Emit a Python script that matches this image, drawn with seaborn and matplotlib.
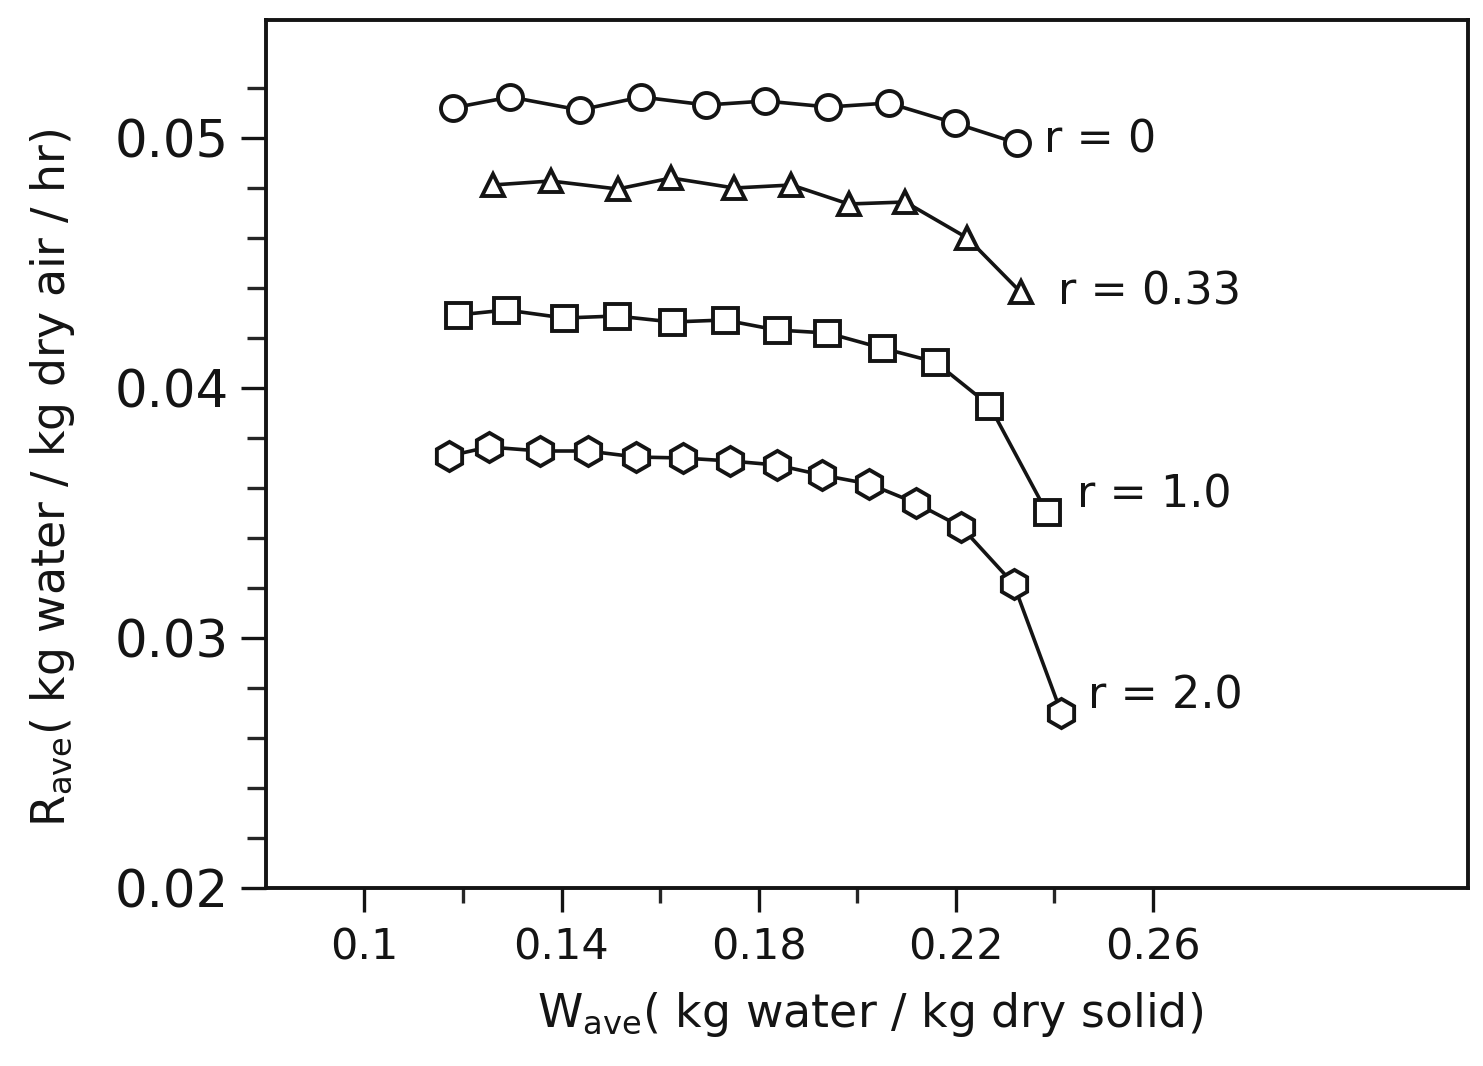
import numpy as np
import pandas as pd
import matplotlib
matplotlib.use("Agg")
import matplotlib.pyplot as plt
import seaborn as sns
from matplotlib.ticker import FixedLocator, FixedFormatter, NullFormatter

# ---------------- data ----------------
series_names = ["r = 0", "r = 0.33", "r = 1.0", "r = 2.0"]

w_r0 = [0.1179, 0.1296, 0.1437, 0.1562, 0.1694, 0.1814, 0.1942, 0.2064, 0.2198, 0.2324]
R_r0 = [0.05120, 0.05164, 0.05112, 0.05164, 0.05132, 0.05148, 0.05124, 0.05140, 0.05060, 0.04980]

w_r033 = [0.1260, 0.1378, 0.1514, 0.1623, 0.1751, 0.1867, 0.1983, 0.2098, 0.2224, 0.2332]
R_r033 = [0.04812, 0.04828, 0.04796, 0.04840, 0.04800, 0.04812, 0.04736, 0.04744, 0.04600, 0.04384]

w_r1 = [0.1189, 0.1288, 0.1406, 0.1512, 0.1625, 0.1731, 0.1837, 0.1940, 0.2050, 0.2159, 0.2269, 0.2385]
R_r1 = [0.04292, 0.04312, 0.04280, 0.04288, 0.04264, 0.04272, 0.04232, 0.04220, 0.04160, 0.04104, 0.03930, 0.03504]

w_r2 = [0.1171, 0.1252, 0.1357, 0.1453, 0.1552, 0.1646, 0.1743, 0.1837, 0.1928, 0.2025, 0.2119, 0.2212, 0.2318, 0.2415]
R_r2 = [0.03728, 0.03764, 0.03748, 0.03748, 0.03724, 0.03720, 0.03708, 0.03692, 0.03652, 0.03616, 0.03540, 0.03444, 0.03216, 0.02700]

x_major_ticks = [0.10, 0.14, 0.18, 0.22, 0.26]
x_tick_labels = ["0.1", "0.14", "0.18", "0.22", "0.26"]
x_minor_ticks = [0.12, 0.16, 0.20, 0.24]
y_major_ticks = [0.02, 0.03, 0.04, 0.05]
y_tick_labels = ["0.02", "0.03", "0.04", "0.05"]
y_minor_ticks = [0.022, 0.024, 0.026, 0.028, 0.032, 0.034, 0.036, 0.038,
                 0.042, 0.044, 0.046, 0.048, 0.052]

x_label = r"$\mathregular{W_{ave}}$( kg water / kg dry solid)"
y_label = r"$\mathregular{R_{ave}}$( kg water / kg dry air / hr)"

# ---------------- build table ----------------
frames = []
for name, w, R in zip(series_names, [w_r0, w_r033, w_r1, w_r2], [R_r0, R_r033, R_r1, R_r2]):
    frames.append(pd.DataFrame({"W": w, "R": R, "series": name}))
df = pd.concat(frames, ignore_index=True)

# ---------------- styling ----------------
sns.set_theme(style="white")
plt.rcParams["font.family"] = ["DejaVu Sans"]
plt.rcParams["mathtext.default"] = "regular"

ink = "#141414"
markers = {"r = 0": "o", "r = 0.33": "^", "r = 1.0": "s", "r = 2.0": "h"}
msizes = {"r = 0": 18, "r = 0.33": 16, "r = 1.0": 18, "r = 2.0": 21}
label_offsets = {"r = 0": (20, 2), "r = 0.33": (27, 0), "r = 1.0": (22, 12), "r = 2.0": (19, 12)}

fig = plt.figure(figsize=(14.83, 10.66), dpi=100)
ax = fig.add_axes([266 / 1483, 1 - 888 / 1066, (1468 - 266) / 1483, (888 - 20) / 1066])

for name in series_names:
    sub = df[df["series"] == name]
    sns.lineplot(data=sub, x="W", y="R", ax=ax, sort=False, estimator=None,
                 color=ink, linewidth=2.6, marker=markers[name],
                 markersize=msizes[name], markerfacecolor="white",
                 markeredgecolor=ink, markeredgewidth=2.8, zorder=3)
    dx, dy = label_offsets[name]
    ax.annotate(name, xy=(sub["W"].iloc[-1], sub["R"].iloc[-1]),
                xytext=(dx, dy), textcoords="offset points",
                ha="left", va="center", fontsize=32, color=ink)

ax.set_xlim(0.08, 0.08 + (1468 - 266) / 98.5 * 0.02)
ax.set_ylim(0.02, 0.05 + (138 - 20) / 250 * 0.01)

ax.xaxis.set_major_locator(FixedLocator(x_major_ticks))
ax.xaxis.set_major_formatter(FixedFormatter(x_tick_labels))
ax.xaxis.set_minor_locator(FixedLocator(x_minor_ticks))
ax.xaxis.set_minor_formatter(NullFormatter())
ax.yaxis.set_major_locator(FixedLocator(y_major_ticks))
ax.yaxis.set_major_formatter(FixedFormatter(y_tick_labels))
ax.yaxis.set_minor_locator(FixedLocator(y_minor_ticks))
ax.yaxis.set_minor_formatter(NullFormatter())

ax.tick_params(axis="x", which="major", direction="out", length=17, width=2.4,
               pad=11, labelsize=31, colors=ink, bottom=True)
ax.tick_params(axis="x", which="minor", direction="out", length=11, width=2.4,
               bottom=True)
ax.tick_params(axis="y", which="major", direction="out", length=18, width=2.4,
               pad=9, labelsize=37, colors=ink, left=True)
ax.tick_params(axis="y", which="minor", direction="out", length=14, width=2.4,
               left=True)

for sp in ax.spines.values():
    sp.set_visible(True)
    sp.set_linewidth(2.8)
    sp.set_color(ink)

ax.set_xlabel(x_label, fontsize=33, color=ink)
ax.set_ylabel(y_label, fontsize=33, color=ink)
ax.xaxis.set_label_coords(0.5025, -0.118)
ax.xaxis.label.set_va("top")
ax.yaxis.set_label_coords(-0.157, 0.472)

ax.set_facecolor("white")
fig.patch.set_facecolor("white")
fig.savefig("out.png", dpi=100)
